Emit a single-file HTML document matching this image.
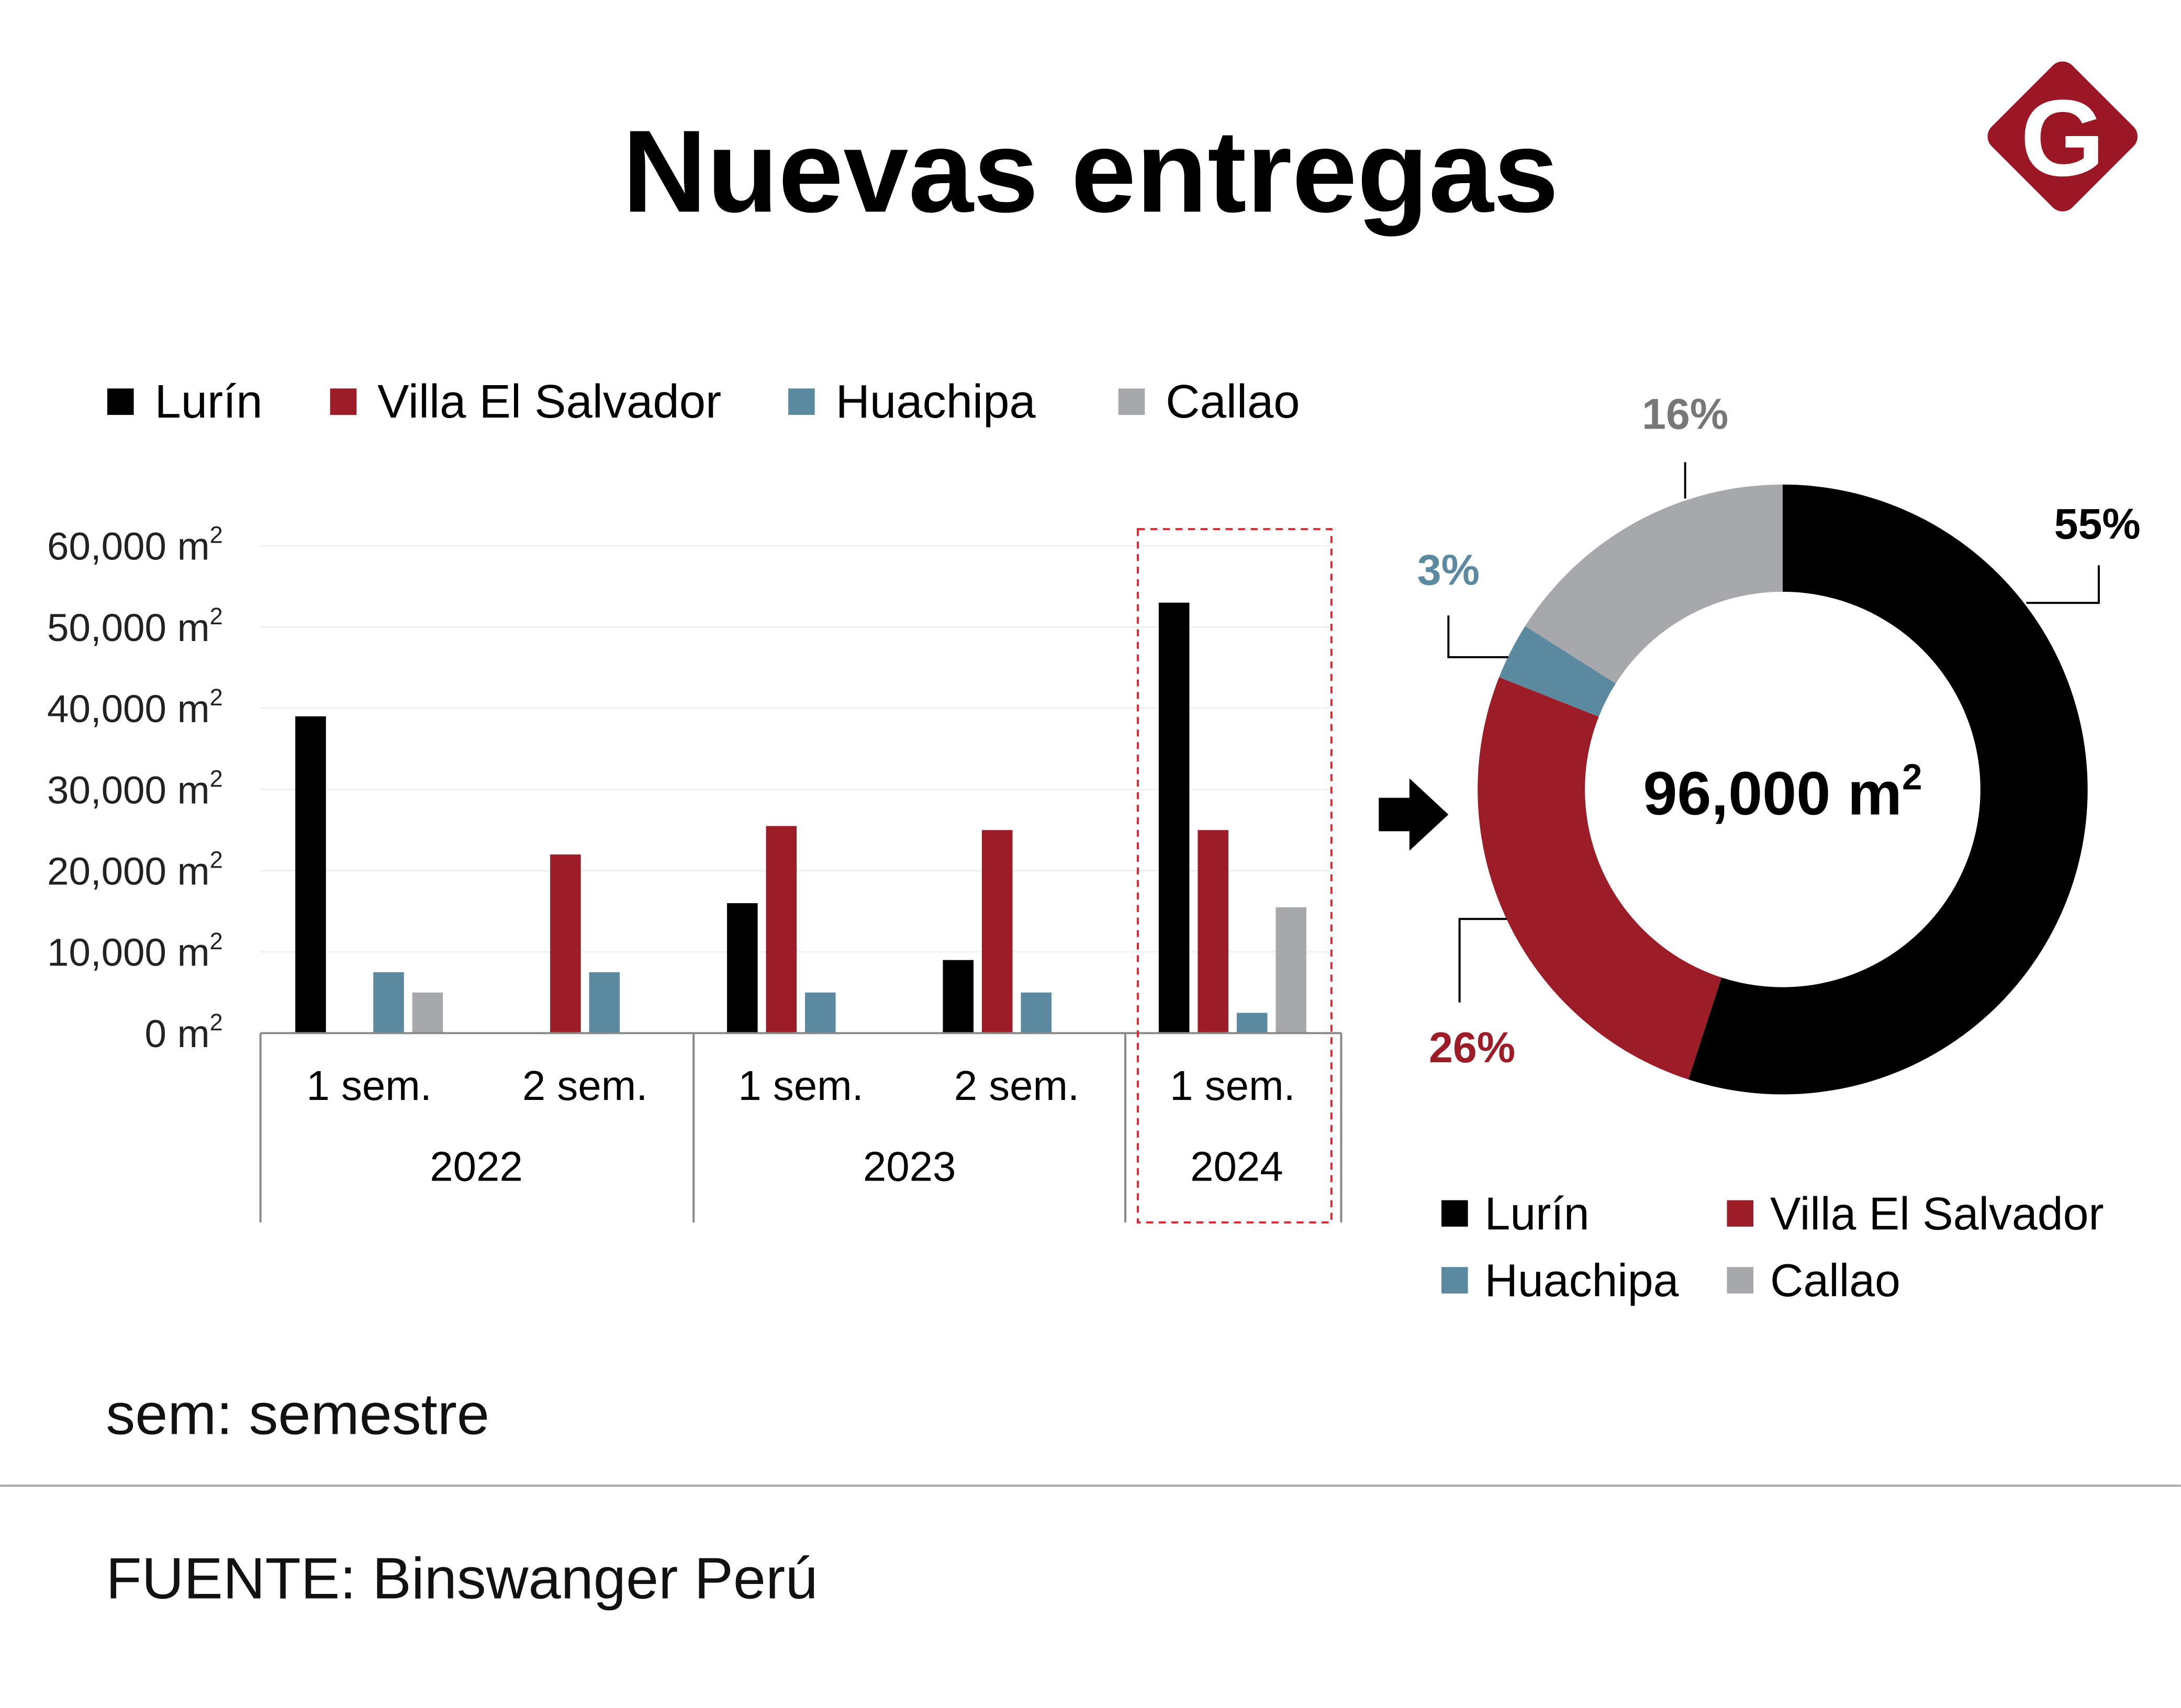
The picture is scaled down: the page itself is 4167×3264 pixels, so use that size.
<!DOCTYPE html>
<html><head><meta charset="utf-8"><style>
html,body{margin:0;padding:0;background:#fff}
svg{display:block}
text{font-family:"Liberation Sans",sans-serif}
</style></head><body>
<svg id="chart" width="4167" height="3264" viewBox="0 0 1566 1226.7" xmlns="http://www.w3.org/2000/svg">
<text x="783" y="152" text-anchor="middle" font-size="84" font-weight="bold" fill="#000">Nuevas entregas</text>
<g>
<rect x="1440" y="57" width="82" height="82" rx="10" fill="#9c1726" transform="rotate(45 1481 98)"/>
<text x="1481" y="126" text-anchor="middle" font-size="78" font-weight="bold" font-family="Liberation Serif,serif" fill="#fff">G</text>
</g>
<g id="legend"></g>
<g id="grid"></g>
<g id="bars"></g>
<g id="axis"></g>
<rect x="817" y="380" width="139" height="498" fill="none" stroke="#e0262f" stroke-width="1.5" stroke-dasharray="5,4"/>
<path d="M990 573 h22 v-14 l28 26 l-28 26 v-14 h-22 z" fill="#000"/>
<g id="donut"></g>
<text x="1280" y="585" text-anchor="middle" font-size="44" font-weight="bold">96,000 m<tspan dy="-18" font-size="26">2</tspan></text>
<g id="legend2"></g>
<text x="76" y="1030" font-size="42" fill="#111">sem: semestre</text>
<line x1="0" y1="1067" x2="1566" y2="1067" stroke="#aaa" stroke-width="1.5"/>
<text x="76" y="1148" font-size="42" fill="#111">FUENTE: Binswanger Perú</text>
</svg>
<script>
const series = ["Lurín","Villa El Salvador","Huachipa","Callao"];
const colors = ["#000000","#9c1c27","#5b8aa0","#a7a8ab"];
const periods = ["1 sem.","2 sem.","1 sem.","2 sem.","1 sem."];
const years = ["2022","2023","2024"];
const lurin = [39000,0,16000,9000,53000];
const villa = [0,22000,25500,25000,25000];
const huachipa = [7500,7500,5000,5000,2500];
const callao = [5000,0,0,0,15500];
const yTicks = [0,10000,20000,30000,40000,50000,60000];
const shares = [55,26,3,16];
const NS="http://www.w3.org/2000/svg";
function mk(t,a,p){const e=document.createElementNS(NS,t);for(const k in a)e.setAttribute(k,a[k]);p.appendChild(e);return e;}
const y=v=>742-v*350/60000;
const gx=i=>212+i*155;
const grid=document.getElementById('grid');
yTicks.forEach(t=>{
 if(t>0){const l=mk('line',{x1:187,x2:955,y1:y(t),y2:y(t),stroke:'#eee','stroke-width':1},grid);
 
 }
 const tx=mk('text',{x:160,y:y(t)+10,'text-anchor':'end','font-size':28,fill:'#222'},grid);
 
 
 tx.textContent=t.toLocaleString('en-US')+' m';
 const s=mk('tspan',{dy:-12,'font-size':17},tx);s.textContent='2';
});
const bars=document.getElementById('bars');
const all=[lurin,villa,huachipa,callao];
periods.forEach((p,i)=>{
 all.forEach((arr,s)=>{
  if(arr[i]<=0)return;
  const r=mk('rect',{x:gx(i)+s*28,y:y(arr[i]),width:22,height:742-y(arr[i]),fill:colors[s]},bars);
  
  
 });
 const t=mk('text',{x:gx(i)+53,y:790,'text-anchor':'middle','font-size':30},bars);
 
 
 t.textContent=p;
});
const ax=document.getElementById('axis');
const bl=mk('line',{x1:187,x2:963,y1:742,y2:742,stroke:'#888','stroke-width':1.5},ax);


[187,498,808,963].forEach(x=>{const l=mk('line',{x1:x,x2:x,y1:742,y2:878,stroke:'#888','stroke-width':1.5},ax);
 
 });
[[342,years[0]],[653,years[1]],[888,years[2]]].forEach(([x,s])=>{const t=mk('text',{x:x,y:848,'text-anchor':'middle','font-size':30},ax);
 
 
 t.textContent=s;});
const lg=document.getElementById('legend');
[77,237,566,803].forEach((x,i)=>{
 const r=mk('rect',{x:x,y:279,width:19,height:19,fill:colors[i]},lg);
 
 
 const t=mk('text',{x:x+34,y:300,'font-size':34},lg);
 
 
 t.textContent=series[i];
});
const lg2=document.getElementById('legend2');
[[1035,862],[1240,862],[1035,910],[1240,910]].forEach(([x,yy],i)=>{
 const order=[0,1,2,3][i];
 const r=mk('rect',{x:x,y:yy,width:19,height:19,fill:colors[order]},lg2);
 
 
 const t=mk('text',{x:x+31,y:yy+21,'font-size':33},lg2);
 
 
 t.textContent=series[order];
});
const dn=document.getElementById('donut');
const cx=1280,cy=567,R=219,r0=142;
let a0=0;
const pt=(a,rr)=>[cx+rr*Math.sin(a),cy-rr*Math.cos(a)];
shares.forEach((s,i)=>{
 const a1=a0+s/100*2*Math.PI;const lg=(a1-a0)>Math.PI?1:0;
 const p1=pt(a0,R),p2=pt(a1,R),p3=pt(a1,r0),p4=pt(a0,r0);
 const p=mk('path',{d:`M${p1} A${R} ${R} 0 ${lg} 1 ${p2} L${p3} A${r0} ${r0} 0 ${lg} 0 ${p4} Z`,fill:colors[i]},dn);
 
 
 a0=a1;
});
const labels=[[1505,387,'end','#000',"M1455 433 H1507 V406"],[1057,763,'middle','#9c1c27',"M1082 660 H1048 V720"],[1040,420,'middle','#5b8aa0',"M1083 472 H1040 V442"],[1210,308,'middle','#777',"M1210 358 V332"]];
labels.forEach(([x,yy,an,c,d],i)=>{
 const l=mk('path',{d:d,fill:'none',stroke:'#000','stroke-width':1.5},dn);
 
 
 const t=mk('text',{x:x+(i==0?32:0),y:yy,'text-anchor':an,'font-size':31,'font-weight':'bold',fill:c},dn);
 
 
 t.textContent=shares[i]+'%';
});
</script>
</body></html>
